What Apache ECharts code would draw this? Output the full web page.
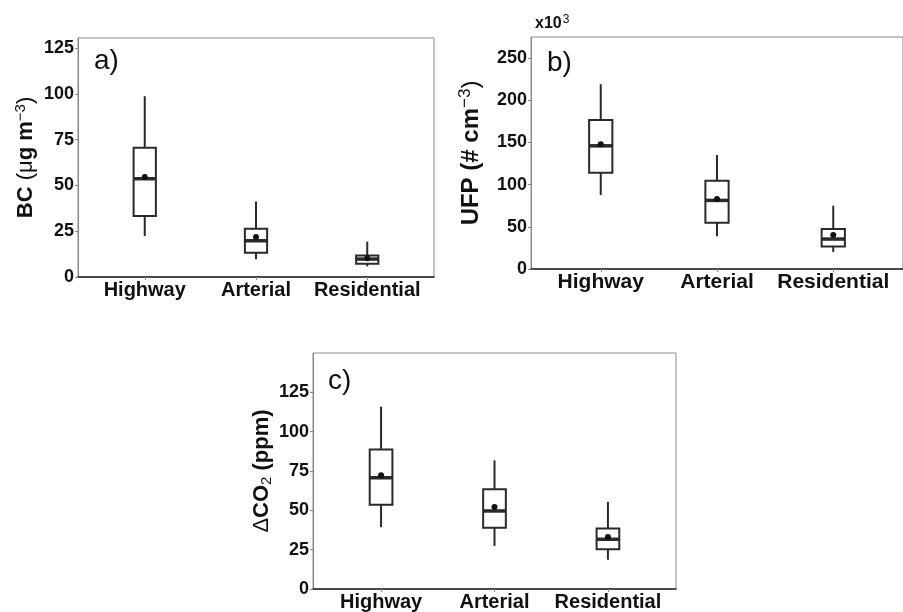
<!DOCTYPE html>
<html><head><meta charset="utf-8">
<script src="https://cdn.jsdelivr.net/npm/echarts@6/dist/echarts.min.js"></script>
<style>html,body{margin:0;padding:0;background:#fff}#c{width:903px;height:612px}</style>
</head><body><div id="c"></div>
<script>
const categories = ['Highway', 'Arterial', 'Residential'];

// Panel a) BC (µg m-3)
const bcMin  = [22.4, 9.7, 5.8];
const bcQ1   = [33.3, 13.3, 7.3];
const bcMed  = [53.7, 19.8, 9.8];
const bcQ3   = [70.6, 26.4, 11.8];
const bcMax  = [98.8, 41.3, 19.3];
const bcMean = [54.6, 21.8, 10.3];
const bcTicks = [0, 25, 50, 75, 100, 125];

// Panel b) UFP (# cm-3, x10^3)
const ufpMin  = [87.7, 38.7, 20.1];
const ufpQ1   = [114, 54.9, 26.8];
const ufpMed  = [146, 81.3, 35.5];
const ufpQ3   = [176.5, 104.6, 47.4];
const ufpMax  = [219, 135, 75];
const ufpMean = [148, 83, 40.2];
const ufpTicks = [0, 50, 100, 150, 200, 250];

// Panel c) dCO2 (ppm)
const co2Min  = [39.3, 27.4, 18.6];
const co2Q1   = [53.5, 38.9, 25.3];
const co2Med  = [70.7, 49.6, 31.6];
const co2Q3   = [88.6, 63.4, 38.5];
const co2Max  = [115.9, 81.8, 55.4];
const co2Mean = [72.3, 52.1, 33.0];
const co2Ticks = [0, 25, 50, 75, 100, 125];

const catPos = [1, 2, 3];
const FONT = 'Liberation Sans, Arial, sans-serif';
const BOXW = 0.2;

function rows(mn, q1, md, q3, mx, mean) {
  return categories.map((c, i) => [catPos[i], mn[i], q1[i], md[i], q3[i], mx[i], mean[i]]);
}

function renderBox(params, api) {
  const x = api.value(0);
  const pMin = api.coord([x, api.value(1)]);
  const pQ1 = api.coord([x, api.value(2)]);
  const pMed = api.coord([x, api.value(3)]);
  const pQ3 = api.coord([x, api.value(4)]);
  const pMax = api.coord([x, api.value(5)]);
  const pMean = api.coord([x, api.value(6)]);
  const left = api.coord([x - BOXW / 2, 0])[0];
  const right = api.coord([x + BOXW / 2, 0])[0];
  const stroke = {stroke: '#2a2a2a', lineWidth: 2, fill: null};
  return {
    type: 'group',
    children: [
      {type: 'line', shape: {x1: pMin[0], y1: pMin[1], x2: pQ1[0], y2: pQ1[1]}, style: stroke},
      {type: 'line', shape: {x1: pQ3[0], y1: pQ3[1], x2: pMax[0], y2: pMax[1]}, style: stroke},
      {type: 'rect', shape: {x: left, y: pQ3[1], width: right - left, height: pQ1[1] - pQ3[1]}, style: {stroke: '#2a2a2a', lineWidth: 2, fill: '#fff'}},
      {type: 'line', shape: {x1: left, y1: pMed[1], x2: right, y2: pMed[1]}, style: {stroke: '#2a2a2a', lineWidth: 3.5}},
      {type: 'circle', shape: {cx: pMean[0], cy: pMean[1], r: 3}, style: {fill: '#111'}}
    ]
  };
}

const grids = [
  {left: 78, top: 38, width: 356, height: 239},
  {left: 531, top: 37, width: 384, height: 232},
  {left: 313, top: 353, width: 363, height: 239}
];
const yMax = [130.6, 275, 150];
const tickSets = [bcTicks, ufpTicks, co2Ticks];
const names = [
  '{b|BC }{r|(μ}{b|g m}{sup|−3}{r|)}',
  '{b|UFP (# cm}{sup|−3}{r|)}',
  '{r|Δ}{b|CO}{sub|2}{b| (ppm)}'
];
const nameGaps = [39, 46, 39];
const nameSizes = [22, 24, 22];
function richName(fs) {
  return {
    b: {fontFamily: FONT, fontWeight: 'bold', fontSize: fs, color: '#111'},
    r: {fontFamily: FONT, fontWeight: 'normal', fontSize: fs, color: '#111'},
    sup: {fontFamily: FONT, fontWeight: 'normal', fontSize: Math.round(fs * 0.7), color: '#111', verticalAlign: 'top', padding: [0, 0, 11, 0]},
    sub: {fontFamily: FONT, fontWeight: 'normal', fontSize: Math.round(fs * 0.7), color: '#111', verticalAlign: 'bottom', padding: [9, 0, 0, 0]}
  };
}

const panelTitle = {fontFamily: FONT, fontWeight: 'normal', fontSize: 28, color: '#111'};
const option = {
  animation: false,
  backgroundColor: '#fff',
  grid: grids.map(g => Object.assign({show: true, borderColor: '#8a8a8a', borderWidth: 1, containLabel: false}, g)),
  xAxis: grids.map((g, i) => ({
    type: 'value', gridIndex: i, min: 0.4, max: 3.6,
    axisLine: {show: true, lineStyle: {color: '#222', width: 1.5}},
    axisTick: {show: true, length: 3, customValues: catPos, lineStyle: {color: '#888'}},
    axisLabel: {customValues: catPos, formatter: v => categories[Math.round(v) - 1], fontFamily: FONT, fontWeight: 'bold', fontSize: i === 1 ? 21 : 20, color: '#111', margin: 3},
    splitLine: {show: false}
  })),
  yAxis: grids.map((g, i) => ({
    type: 'value', gridIndex: i, min: 0, max: yMax[i],
    name: names[i], nameLocation: 'middle', nameGap: nameGaps[i],
    nameTextStyle: {rich: richName(nameSizes[i])},
    axisLine: {show: true, lineStyle: {color: '#888', width: 1}},
    axisTick: {show: true, length: 3, customValues: tickSets[i], lineStyle: {color: '#888'}},
    axisLabel: {customValues: tickSets[i], fontFamily: FONT, fontWeight: 'bold', fontSize: 18, color: '#111', margin: 4},
    splitLine: {show: false}
  })),
  title: [
    {text: 'a)', left: 94, top: 47, textStyle: panelTitle, padding: 0},
    {text: 'b)', left: 547, top: 49, textStyle: panelTitle, padding: 0},
    {text: 'c)', left: 328, top: 367, textStyle: panelTitle, padding: 0},
    {text: '{b|x10}{s|3}', left: 535, top: 14, padding: 0, textStyle: {rich: {
      b: {fontFamily: FONT, fontWeight: 'bold', fontSize: 16, color: '#111'},
      s: {fontFamily: FONT, fontWeight: 'normal', fontSize: 12, color: '#111', verticalAlign: 'top', padding: [0, 0, 7, 1]}
    }}}
  ],
  series: [
    {type: 'custom', xAxisIndex: 0, yAxisIndex: 0, renderItem: renderBox, encode: {x: 0, y: [1, 2, 3, 4, 5, 6]}, data: rows(bcMin, bcQ1, bcMed, bcQ3, bcMax, bcMean)},
    {type: 'custom', xAxisIndex: 1, yAxisIndex: 1, renderItem: renderBox, encode: {x: 0, y: [1, 2, 3, 4, 5, 6]}, data: rows(ufpMin, ufpQ1, ufpMed, ufpQ3, ufpMax, ufpMean)},
    {type: 'custom', xAxisIndex: 2, yAxisIndex: 2, renderItem: renderBox, encode: {x: 0, y: [1, 2, 3, 4, 5, 6]}, data: rows(co2Min, co2Q1, co2Med, co2Q3, co2Max, co2Mean)}
  ]
};
const chart = echarts.init(document.getElementById('c'), null, {renderer: 'canvas'});
chart.setOption(option);
</script></body></html>
